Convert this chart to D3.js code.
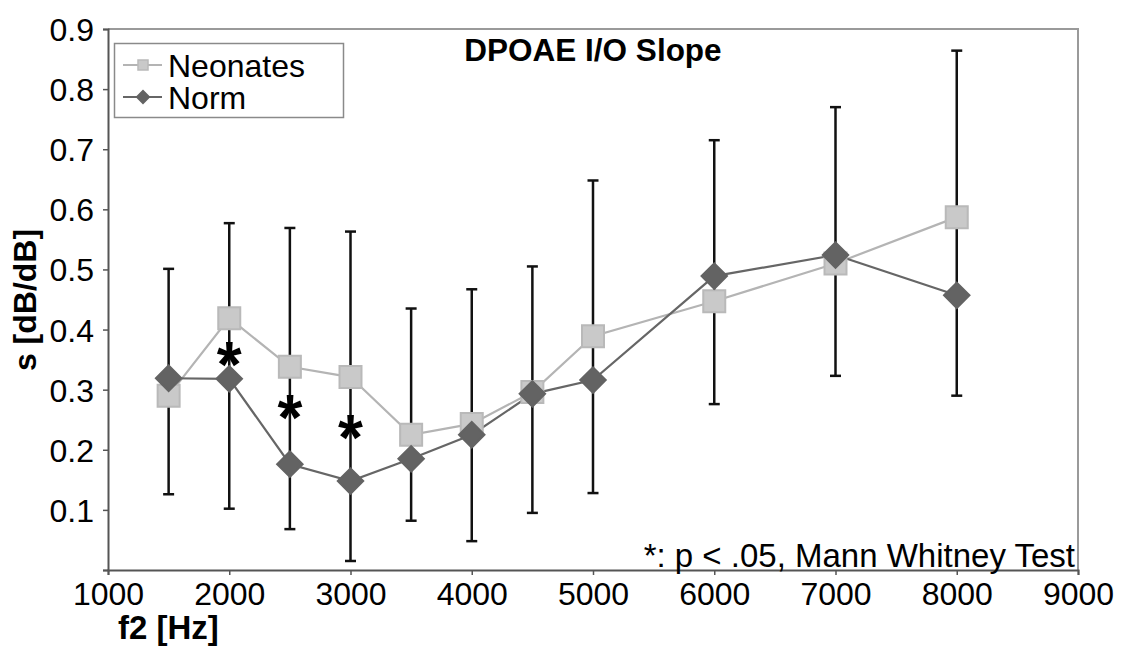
<!DOCTYPE html>
<html>
<head>
<meta charset="utf-8">
<script src="https://cdn.jsdelivr.net/npm/d3@7"></script>
<style>
  body { margin: 0; background: #fff; }
  svg { display: block; font-family: Arial, "Liberation Sans", sans-serif; }
</style>
</head>
<body>
<div id="chart"></div>
<script>
// f2 frequencies (Hz)
const freqs = [1500, 2000, 2500, 3000, 3500, 4000, 4500, 5000, 6000, 7000, 8000];
// slope values
const neonates = [0.29, 0.419, 0.338, 0.321, 0.225, 0.243, 0.296, 0.389, 0.447, 0.51, 0.587];
const norm = [0.319, 0.318, 0.176, 0.148, 0.185, 0.225, 0.293, 0.316, 0.489, 0.524, 0.457];
// error bar ends
const errHigh = [0.501, 0.577, 0.569, 0.563, 0.435, 0.467, 0.505, 0.648, 0.715, 0.77, 0.864];
const errLow = [0.126, 0.102, 0.068, 0.015, 0.082, 0.048, 0.095, 0.128, 0.276, 0.323, 0.29];
// significance markers
const sigFreqs = [2000, 2500, 3000];
const sigY = [0.355, 0.266, 0.233];

const xTicks = [1000, 2000, 3000, 4000, 5000, 6000, 7000, 8000, 9000];
const yTicks = [0, 0.1, 0.2, 0.3, 0.4, 0.5, 0.6, 0.7, 0.8, 0.9];

const width = 1121, height = 647;
const plot = { left: 108, right: 1078, top: 29, bottom: 570 };

const svg = d3.select('#chart').append('svg')
    .attr('width', width)
    .attr('height', height);

const x = d3.scaleLinear().domain([1000, 9000]).range([plot.left, plot.right]);
const y = d3.scaleLinear().domain([0, 0.9]).range([plot.bottom, plot.top]);

// plot frame (top/right in light grey)
svg.append('path')
    .attr('d', `M${plot.left},${plot.top}H${plot.right}V${plot.bottom}`)
    .attr('fill', 'none')
    .attr('stroke', '#9a9a9a')
    .attr('stroke-width', 2);

// axes
const yAxis = svg.append('g')
    .attr('transform', `translate(${plot.left},0)`)
    .call(d3.axisLeft(y).tickValues(yTicks).tickSize(5).tickPadding(9)
        .tickFormat(d => d === 0 ? '' : d3.format('.1f')(d)));

const xAxis = svg.append('g')
    .attr('transform', `translate(0,${plot.bottom})`)
    .call(d3.axisBottom(x).tickValues(xTicks).tickSize(5).tickPadding(4)
        .tickFormat(d3.format('d')));

[xAxis, yAxis].forEach(g => {
    g.select('.domain').attr('stroke', '#555').attr('stroke-width', 2);
    g.selectAll('.tick line').attr('stroke', '#555').attr('stroke-width', 1.5);
    g.selectAll('.tick text')
        .attr('fill', '#000')
        .style('font-size', '32px')
        .style('font-family', 'Arial, "Liberation Sans", sans-serif');
});
yAxis.selectAll('.tick text').attr('dy', '0.36em');
xAxis.selectAll('.tick text').attr('dy', '0.8em');

// error bars
const eb = svg.append('g').attr('stroke', '#111').attr('stroke-width', 2.5);
freqs.forEach((f, i) => {
    const cx = x(f);
    eb.append('line').attr('x1', cx).attr('x2', cx).attr('y1', y(errLow[i])).attr('y2', y(errHigh[i]));
    eb.append('line').attr('x1', cx - 5.5).attr('x2', cx + 5.5).attr('y1', y(errLow[i])).attr('y2', y(errLow[i]));
    eb.append('line').attr('x1', cx - 5.5).attr('x2', cx + 5.5).attr('y1', y(errHigh[i])).attr('y2', y(errHigh[i]));
});

const line = d3.line().x((d, i) => x(freqs[i])).y(d => y(d));

const series = [
    { name: 'Neonates', values: neonates, line: '#b4b4b4', fill: '#c9c9c9', stroke: '#b9b9b9', shape: 'square' },
    { name: 'Norm', values: norm, line: '#666', fill: '#636363', stroke: '#636363', shape: 'diamond' }
];

const squarePath = d3.symbol().type(d3.symbolSquare).size(22 * 22);
const diamondPath = d3.symbol().type(d3.symbolSquare).size(18 * 18);

series.forEach(s => {
    svg.append('path')
        .datum(s.values)
        .attr('d', line)
        .attr('fill', 'none')
        .attr('stroke', s.line)
        .attr('stroke-width', 2.2);
});

series.forEach(s => {
    svg.append('g').selectAll('path')
        .data(s.values)
        .join('path')
        .attr('d', s.shape === 'square' ? squarePath : diamondPath)
        .attr('transform', (d, i) => `translate(${x(freqs[i])},${y(d)})` + (s.shape === 'diamond' ? ' rotate(45)' : ''))
        .attr('fill', s.fill)
        .attr('stroke', s.stroke)
        .attr('stroke-width', 2);
});

// significance asterisks
svg.append('g').selectAll('text')
    .data(sigFreqs)
    .join('text')
    .attr('x', d => x(d))
    .attr('y', (d, i) => y(sigY[i]) + 30)
    .attr('text-anchor', 'middle')
    .style('font-size', '64px')
    .style('font-weight', 'bold')
    .text('*');

// title
svg.append('text')
    .attr('x', (plot.left + plot.right) / 2)
    .attr('y', 61)
    .attr('text-anchor', 'middle')
    .style('font-size', '31.5px')
    .style('font-weight', 'bold')
    .text('DPOAE I/O Slope');

// axis titles
svg.append('text')
    .attr('x', 118)
    .attr('y', 639)
    .style('font-size', '33px')
    .style('font-weight', 'bold')
    .text('f2 [Hz]');

svg.append('text')
    .attr('transform', 'translate(36,300) rotate(-90)')
    .attr('text-anchor', 'middle')
    .style('font-size', '32px')
    .style('font-weight', 'bold')
    .text('s [dB/dB]');

// footnote
svg.append('text')
    .attr('x', 1075)
    .attr('y', 567)
    .attr('text-anchor', 'end')
    .style('font-size', '33px')
    .text('*: p < .05, Mann Whitney Test');

// legend
const legend = svg.append('g');
legend.append('rect')
    .attr('x', 114.5).attr('y', 43.5)
    .attr('width', 229).attr('height', 74)
    .attr('fill', '#fff')
    .attr('stroke', '#8a8a8a')
    .attr('stroke-width', 1.5);

const legSquare = d3.symbol().type(d3.symbolSquare).size(10 * 10);
const legDiamond = d3.symbol().type(d3.symbolSquare).size(9 * 9);

series.forEach((s, i) => {
    const ly = 65 + i * 32;
    legend.append('line')
        .attr('x1', 123).attr('x2', 162).attr('y1', ly).attr('y2', ly)
        .attr('stroke', s.line).attr('stroke-width', 2);
    legend.append('path')
        .attr('d', s.shape === 'square' ? legSquare : legDiamond)
        .attr('transform', `translate(143,${ly})` + (s.shape === 'diamond' ? ' rotate(45)' : ''))
        .attr('fill', s.fill)
        .attr('stroke', s.stroke)
        .attr('stroke-width', 1.5);
    legend.append('text')
        .attr('x', 168).attr('y', ly + 12)
        .style('font-size', '32px')
        .text(s.name);
});
</script>
</body>
</html>
